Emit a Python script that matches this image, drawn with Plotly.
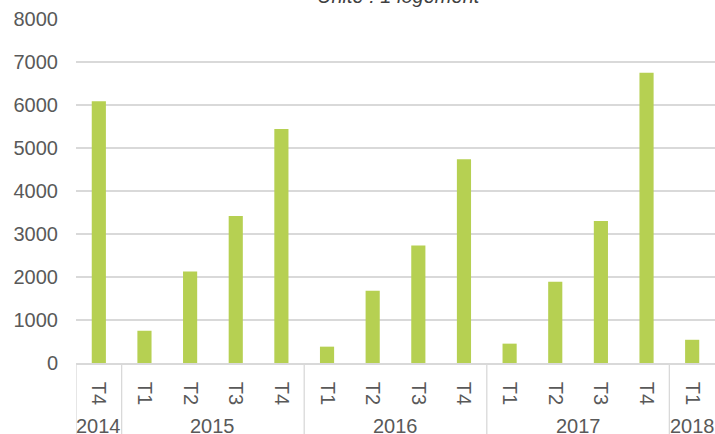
import plotly.graph_objects as go

years = ["2014", "2015", "2015", "2015", "2015", "2016", "2016", "2016", "2016",
         "2017", "2017", "2017", "2017", "2018"]
quarters = ["T4", "T1", "T2", "T3", "T4", "T1", "T2", "T3", "T4",
            "T1", "T2", "T3", "T4", "T1"]
values = [6090, 750, 2130, 3420, 5440, 380, 1680, 2730, 4740,
          450, 1890, 3300, 6750, 540]
y_ticks = [0, 1000, 2000, 3000, 4000, 5000, 6000, 7000, 8000]

keys = [f"{y}-{q}" for y, q in zip(years, quarters)]
n = len(keys)

GRID = "#d9d9d9"
TXT = "#595959"
FONT = "Liberation Sans, Arial, sans-serif"

M_L, M_R, M_T, M_B = 76, 0, 19, 71
PLOT_H = 434 - M_T - M_B

fig = go.Figure(go.Bar(
    x=keys, y=values,
    marker=dict(color="#b6d052", line=dict(width=0)),
    width=0.31,
))

# year groups: label centres and divider positions
groups = []
for i, y in enumerate(years):
    if not groups or groups[-1][0] != y:
        groups.append([y, i, i])
    else:
        groups[-1][2] = i

bottom = -M_B / PLOT_H

annotations = []
shapes = []
for y, i0, i1 in groups:
    annotations.append(dict(
        x=(i0 + i1) / 2, xref="x", y=-(63 / PLOT_H), yref="paper",
        text=y, showarrow=False, xanchor="center", yanchor="middle",
        font=dict(size=20, color=TXT, family=FONT)))
    shapes.append(dict(type="line", xref="x", yref="paper",
                       x0=i0 - 0.5, x1=i0 - 0.5, y0=0, y1=bottom,
                       line=dict(color=GRID, width=1.3)))

annotations.append(dict(
    x=0.505, xref="paper", y=1 + 23 / PLOT_H, yref="paper",
    text="<i>Unité : 1 logement</i>", showarrow=False,
    xanchor="center", yanchor="middle",
    font=dict(size=20, color="#404040", family=FONT)))

fig.update_layout(
    width=715, height=434,
    margin=dict(l=M_L, r=M_R, t=M_T, b=M_B),
    paper_bgcolor="white", plot_bgcolor="white",
    font=dict(family=FONT, size=20, color=TXT),
    showlegend=False,
    annotations=annotations,
    shapes=shapes,
)
fig.update_yaxes(range=[0, 8000], tickvals=y_ticks, showgrid=True,
                 gridcolor=GRID, gridwidth=1.5, zeroline=False,
                 showline=False, ticks="", ticklabelstandoff=17,
                 automargin=False)
fig.update_xaxes(type="category", range=[-0.5, n - 0.5],
                 tickvals=keys, ticktext=quarters, tickangle=90,
                 showline=True, linecolor=GRID, linewidth=1.5,
                 ticks="", ticklabelstandoff=13, automargin=False,
                 showgrid=False)

fig.write_html("out.html",
               config={"displayModeBar": False},
               post_script="document.body.style.margin='0';")
